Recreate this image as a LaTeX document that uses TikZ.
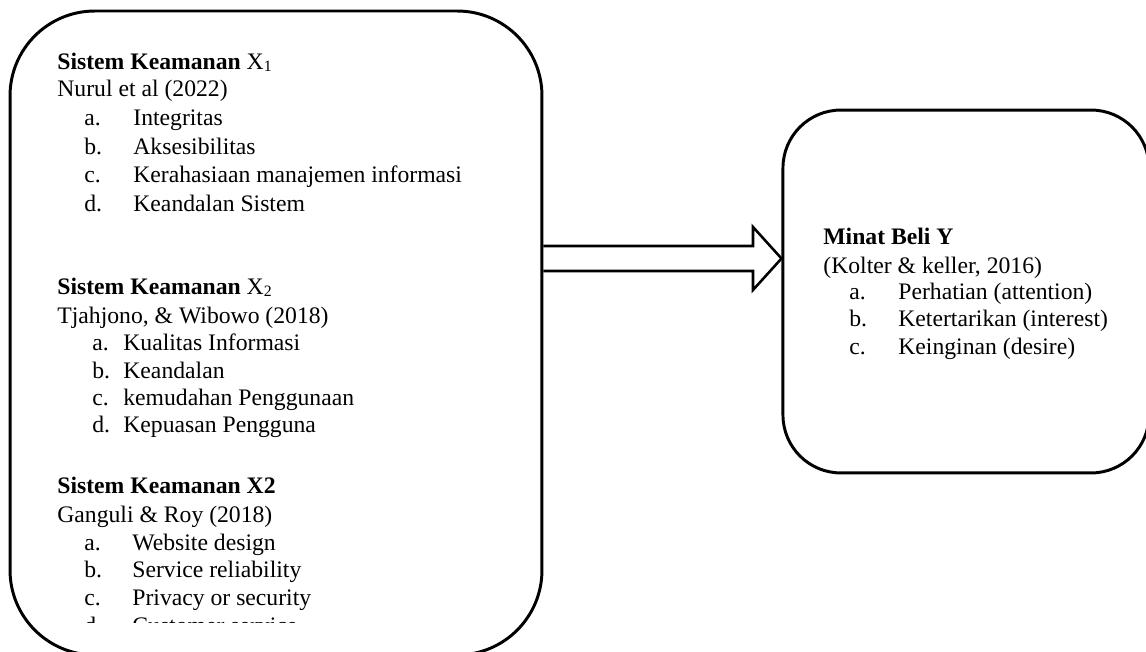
\documentclass[tikz,border=0pt]{standalone}
\usepackage{fontspec}
\setmainfont{Liberation Serif}
\usepackage{tikz}
\usetikzlibrary{positioning,calc}

\newcommand{\lowidx}[1]{{\fontsize{8}{8}\selectfont\raisebox{-0.8pt}{#1}}}

\begin{document}
\begin{tikzpicture}[
    x=0.507pt, y=-0.507pt,
    panel/.style={
        draw=black,
        line width=1.5pt,
        fill=none
    },
    txt/.style={anchor=base west, inner sep=0pt, font=\fontsize{12}{14}\selectfont},
    head/.style={txt, font=\fontsize{12}{14}\selectfont\bfseries},
    blockarrow/.style={draw=black, line width=1.3pt, line join=miter}
]

\useasboundingbox (0,0) rectangle (1146,652);

% ===== Boxes =====
\node[panel, rounded corners=43pt, minimum width=269.7pt, minimum height=326.5pt] (keamanan) at (276,333) {};
\node[panel, rounded corners=29.4pt, minimum width=185.6pt, minimum height=184pt] (minat) at (966,291.5) {};

% ===== Arrow =====
\coordinate (shaftT) at (753,246);
\coordinate (shaftB) at (753,271);
\coordinate (headT) at (753,227);
\coordinate (headB) at (753,290);
\coordinate (tipY) at (0,258.5);
\draw[blockarrow] (keamanan.east |- shaftT) -- (shaftT) -- (headT)
    -- (minat.west |- tipY) -- (headB) -- (shaftB) -- (keamanan.east |- shaftB);

% ===== Sistem Keamanan X1 =====
\node[txt] (x1head) at (57,70) {\textbf{Sistem Keamanan} X\lowidx{1}};
\node[txt] (x1src) at (57,97) {Nurul et al (2022)};
\node[txt] (x1a) at (84,126) {a.};
\node[txt] (x1at) at (133,126) {Integritas};
\node[txt] (x1b) at (84,155) {b.};
\node[txt] (x1bt) at (133,155) {Aksesibilitas};
\node[txt] (x1c) at (84,183) {c.};
\node[txt] (x1ct) at (133,183) {Kerahasiaan manajemen informasi};
\node[txt] (x1d) at (84,212) {d.};
\node[txt] (x1dt) at (133,212) {Keandalan Sistem};

% ===== Sistem Keamanan X2 =====
\node[txt] (x2head) at (57,295) {\textbf{Sistem Keamanan} X\lowidx{2}};
\node[txt] (x2src) at (57,323) {Tjahjono, \& Wibowo (2018)};
\node[txt] (x2a) at (92,350) {a.};
\node[txt] (x2at) at (123,350) {Kualitas Informasi};
\node[txt] (x2b) at (92,378) {b.};
\node[txt] (x2bt) at (123,378) {Keandalan};
\node[txt] (x2c) at (92,406) {c.};
\node[txt] (x2ct) at (123,406) {kemudahan Penggunaan};
\node[txt] (x2d) at (92,433) {d.};
\node[txt] (x2dt) at (123,433) {Kepuasan Pengguna};

% ===== Sistem Keamanan X2 (Ganguli) =====
\node[head] (x3head) at (57,493) {Sistem Keamanan X2};
\node[txt] (x3src) at (57,522) {Ganguli \& Roy (2018)};
\node[txt] (x3a) at (84,550) {a.};
\node[txt] (x3at) at (132,550) {Website design};
\node[txt] (x3b) at (84,577) {b.};
\node[txt] (x3bt) at (132,577) {Service reliability};
\node[txt] (x3c) at (84,605) {c.};
\node[txt] (x3ct) at (132,605) {Privacy or security};
\begin{scope}
    \clip (0,0) rectangle (1146,622);
    \node[txt] (x3d) at (84,633) {d.};
    \node[txt] (x3dt) at (132,633) {Customer service};
\end{scope}

% ===== Minat Beli Y =====
\node[head] (yhead) at (823,245) {Minat Beli Y};
\node[txt] (ysrc) at (823,273) {(Kolter \& keller, 2016)};
\node[txt] (ya) at (849,300) {a.};
\node[txt] (yat) at (898,300) {Perhatian (attention)};
\node[txt] (yb) at (849,327) {b.};
\node[txt] (ybt) at (898,327) {Ketertarikan (interest)};
\node[txt] (yc) at (849,355) {c.};
\node[txt] (yct) at (898,355) {Keinginan (desire)};

\end{tikzpicture}
\end{document}
